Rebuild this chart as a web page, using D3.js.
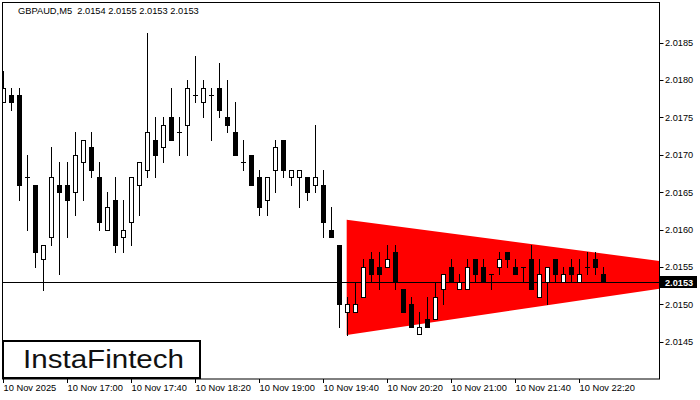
<!DOCTYPE html>
<html><head><meta charset="utf-8">
<script src="https://cdn.jsdelivr.net/npm/d3@7"></script>
<style>
body{margin:0;background:#fff}
svg{display:block}
text{font-family:"Liberation Sans",Arial,sans-serif}
</style>
</head><body>
<svg id="c" width="700" height="400"></svg>
<script>
const symbol = "GBPAUD,M5";
const lastOHLC = ["2.0154","2.0155","2.0153","2.0153"];
const timeLabels = ["10 Nov 2025","10 Nov 17:00","10 Nov 17:40","10 Nov 18:20","10 Nov 19:00","10 Nov 19:40","10 Nov 20:20","10 Nov 21:00","10 Nov 21:40","10 Nov 22:20"];
const timeTickIndex = [0,8,16,24,32,40,48,56,64,72];
const priceTicks = [2.0145,2.0150,2.0155,2.0160,2.0165,2.0170,2.0175,2.0180,2.0185];
const lastPrice = 2.0153;

const open = [2.0177,2.0178,2.0178,2.0167,2.0166,2.0156,2.0159,2.0166,2.0166,2.0165,
2.0169,2.0171,2.0167,2.0160,2.0164,2.0159,2.0161,2.0166,2.0168,2.0172,
2.0171,2.0175,2.0173,2.0174,2.0178,2.0177,2.0178,2.0179,2.0175,2.0173,
2.0169,2.0170,2.0167,2.0164,2.0168,2.0172,2.0167,2.0167,2.0167,2.0166,
2.0166,2.0160,2.0158,2.0149,2.0149,2.0151,2.0156,2.0155,2.0155,2.0157,
2.0152,2.0150,2.0146,2.0148,2.0148,2.0152,2.0155,2.0152,2.0152,2.0156,
2.0155,2.0154,2.0155,2.0157,2.0155,2.0155,2.0156,2.0151,2.0153,2.0156,
2.0153,2.0155,2.0153,2.0155,2.0156,2.0154];
const high = [2.01812,2.0179,2.0179,2.0170,2.0166,2.0158,2.0171,2.0169,2.0169,2.0173,
2.0172,2.0173,2.0169,2.0165,2.0167,2.0164,2.0167,2.0169,2.01863,2.0175,
2.0175,2.0179,2.0175,2.0180,2.01832,2.0180,2.0179,2.01823,2.0180,2.0177,
2.0172,2.0170,2.0168,2.0167,2.0172,2.0172,2.0168,2.0168,2.0167,2.0174,
2.0168,2.0163,2.0158,2.0151,2.0153,2.0156,2.0157,2.0157,2.0158,2.0158,
2.0152,2.0151,2.0149,2.0151,2.0153,2.0154,2.0156,2.0154,2.0156,2.0156,
2.0156,2.0154,2.0157,2.0157,2.0156,2.0155,2.0158,2.0156,2.0155,2.0156,
2.0155,2.0156,2.0156,2.0157,2.0157,2.0155];
const low = [2.0177,2.0176,2.0164,2.0160,2.0155,2.01519,2.0158,2.0154,2.0159,2.0162,
2.0164,2.0167,2.0160,2.0160,2.0157,2.0157,2.0158,2.0162,2.0167,2.0167,
2.0169,2.0172,2.0170,2.0170,2.0177,2.0175,2.0172,2.0175,2.0173,2.0170,
2.0168,2.0166,2.0162,2.0162,2.0165,2.0167,2.0166,2.0163,2.0164,2.0165,
2.0159,2.0159,2.0147,2.01459,2.0149,2.0151,2.0153,2.0152,2.0155,2.0152,
2.0149,2.0147,2.0146,2.0147,2.0148,2.0150,2.0153,2.0152,2.0152,2.0153,
2.0153,2.0152,2.0154,2.0155,2.0154,2.0153,2.0152,2.0151,2.0150,2.0153,
2.0153,2.0153,2.0153,2.0154,2.0154,2.0153];
const close = [2.0179,2.0177,2.0166,2.0167,2.0157,2.0158,2.0167,2.0165,2.0164,2.0170,
2.0172,2.0168,2.0161,2.0163,2.0158,2.0160,2.0167,2.0169,2.0173,2.0170,
2.0174,2.0172,2.0173,2.0179,2.0178,2.0179,2.0178,2.0176,2.0174,2.0170,
2.0169,2.0166,2.0163,2.0167,2.0171,2.0168,2.0168,2.0168,2.0165,2.0167,
2.0161,2.0159,2.0150,2.0150,2.0150,2.0155,2.0154,2.0154,2.0156,2.0153,
2.0149,2.0147,2.0147,2.0147,2.0151,2.0154,2.0153,2.0153,2.0155,2.0154,
2.0153,2.0154,2.0156,2.0156,2.0154,2.0155,2.0152,2.0154,2.0155,2.0154,
2.0154,2.0154,2.0154,2.0155,2.0155,2.0153];

// symmetrical triangle pattern (bar index, upper price, lower price)
const triIndex = [42.9, 82];
const triUpper = [2.01613, 2.01558];
const triLower = [2.01459, 2.01521];

const svg = d3.select("#c");
const L = 2, T = 2, R = 659.5, B = 379;

const x = d3.scaleLinear().domain([0, 1]).range([3.5, 11.5]);
const y = d3.scaleLinear().domain([2.0145, 2.0185]).range([341.7, 42.7]);
const py = v => Math.round(y(v)) + 0.5;

svg.append("rect").attr("width",700).attr("height",400).attr("fill","#fff");

svg.append("clipPath").attr("id","plot").append("rect")
  .attr("x",L).attr("y",T).attr("width",R-L).attr("height",B-T);

const g = svg.append("g").attr("clip-path","url(#plot)");

// triangle
g.append("path")
  .attr("d", d3.line()([
    [x(triIndex[0]), y(triUpper[0])],
    [x(triIndex[1]), y(triUpper[1])],
    [x(triIndex[1]), y(triLower[1])],
    [x(triIndex[0]), y(triLower[0])]
  ]) + "Z")
  .attr("fill","#ff0000");

// last price line
g.append("line").attr("x1",L).attr("x2",R).attr("y1",py(lastPrice)).attr("y2",py(lastPrice))
  .attr("stroke","#000").attr("stroke-width",1);

// candles
const idx = d3.range(open.length);
const cg = g.append("g");
idx.forEach(i => {
  const cx = x(i);
  cg.append("line").attr("x1",cx).attr("x2",cx)
    .attr("y1",Math.round(y(high[i]))).attr("y2",Math.round(y(low[i]))+1)
    .attr("stroke","#000").attr("stroke-width",1);
  const o = open[i], c = close[i];
  if (Math.abs(o - c) < 1e-7) {
    cg.append("line").attr("x1",cx-2.5).attr("x2",cx+2.5)
      .attr("y1",py(o)).attr("y2",py(o)).attr("stroke","#000");
  } else {
    const yt = Math.round(y(Math.max(o,c))) + 0.5;
    const yb = Math.round(y(Math.min(o,c))) + 0.5;
    cg.append("rect").attr("x",cx-2).attr("y",yt).attr("width",4).attr("height",Math.max(1,yb-yt))
      .attr("fill", c > o ? "#fff" : "#000").attr("stroke","#000").attr("stroke-width",1);
  }
});

// frame
svg.append("rect").attr("x",L+0.5).attr("y",T+0.5).attr("width",R-L-0.5).attr("height",B-T-0.5)
  .attr("fill","none").attr("stroke","#000").attr("stroke-width",1);

// y axis
const ya = svg.append("g");
priceTicks.forEach(p => {
  ya.append("line").attr("x1",R).attr("x2",R+4).attr("y1",py(p)).attr("y2",py(p)).attr("stroke","#000");
  ya.append("text").attr("x",665).attr("y",y(p)+3.3).attr("font-size","9.2px").attr("fill","#000")
    .text(d3.format(".4f")(p));
});
ya.append("rect").attr("x",660).attr("y",Math.round(y(lastPrice))-6).attr("width",37).attr("height",12).attr("fill","#000");
ya.append("text").attr("x",665).attr("y",y(lastPrice)+3.6).attr("font-size","9.2px").attr("fill","#fff")
  .attr("font-weight","bold").text(d3.format(".4f")(lastPrice));

// x axis
const xa = svg.append("g");
timeTickIndex.forEach((ti, k) => {
  const tx = Math.round(x(ti)) - 0.5;
  xa.append("line").attr("x1",tx).attr("x2",tx).attr("y1",B).attr("y2",B+4).attr("stroke","#000");
  xa.append("text").attr("x",tx).attr("y",391).attr("font-size","9.3px").attr("fill","#000").text(timeLabels[k]);
});

// title
svg.append("text").attr("x",18).attr("y",14).attr("font-size","9.3px").attr("fill","#000")
  .attr("xml:space","preserve")
  .text(symbol + "  " + lastOHLC.join(" "));

// logo
svg.append("rect").attr("x",3).attr("y",341).attr("width",197).attr("height",37)
  .attr("fill","#fff").attr("stroke","#000").attr("stroke-width",2);
svg.append("text").attr("x",23).attr("y",368).attr("font-size","25px")
  .attr("font-family","'DejaVu Sans',sans-serif").attr("fill","#111")
  .attr("textLength",161).attr("lengthAdjust","spacingAndGlyphs")
  .text("InstaFintech");
</script>
</body></html>
